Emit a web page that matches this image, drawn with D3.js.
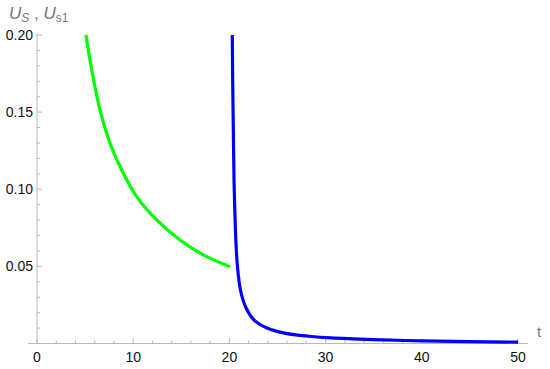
<!DOCTYPE html>
<html>
<head>
<meta charset="utf-8">
<script src="https://cdn.jsdelivr.net/npm/d3@7"></script>
<style>
  body { margin: 0; background: #fff; }
  svg { display: block; font-family: "Liberation Sans", Arial, sans-serif; }
</style>
</head>
<body>
<div id="chart"></div>
<script>
// values
const greenT = [5.09, 5.69, 6.55, 7.59, 8.8, 10.36, 12.44, 14.86, 17.29, 20.06];
const greenU = [0.2, 0.1773, 0.1514, 0.1298, 0.1125, 0.0952, 0.0801, 0.0671, 0.0574, 0.0498];

const blueT = [20.3, 20.34, 20.41, 20.48, 20.57, 20.7, 20.85, 21.15, 21.7, 22.57, 23.96, 25.87, 28.3, 30.6, 35, 40, 45, 50];
const blueU = [0.2, 0.171, 0.138, 0.106, 0.085, 0.063, 0.049, 0.0347, 0.0235, 0.0152, 0.0099, 0.0066, 0.0047, 0.0036, 0.0025, 0.0017, 0.0012, 0.0009];

const xTicks = [0, 10, 20, 30, 40, 50];
const yTicks = [0.05, 0.10, 0.15, 0.20];

const width = 550, height = 369;

const x = d3.scaleLinear().domain([0, 50]).range([37, 518]);
const y = d3.scaleLinear().domain([0, 0.2]).range([343.5, 35]);

const svg = d3.select("#chart").append("svg")
    .attr("width", width)
    .attr("height", height);

const axisColor = "#b8b8b8";

// x axis
const xAxis = svg.append("g");
xAxis.append("line")
    .attr("x1", 28).attr("x2", 528)
    .attr("y1", y(0)).attr("y2", y(0))
    .attr("stroke", axisColor);
xAxis.selectAll("line.minor")
  .data(d3.range(0, 51, 2))
  .join("line")
    .attr("class", "minor")
    .attr("x1", d => x(d)).attr("x2", d => x(d))
    .attr("y1", y(0)).attr("y2", d => y(0) - (d % 10 === 0 ? 5 : 3))
    .attr("stroke", axisColor);
xAxis.selectAll("text")
  .data(xTicks)
  .join("text")
    .attr("x", d => x(d))
    .attr("y", 362)
    .attr("text-anchor", "middle")
    .attr("font-size", 14)
    .attr("fill", "#111")
    .text(d => d);
svg.append("text")
    .attr("x", 537).attr("y", 337)
    .attr("font-size", 15)
    .attr("fill", "#777")
    .text("t");

// y axis
const yAxis = svg.append("g");
yAxis.append("line")
    .attr("x1", x(0)).attr("x2", x(0))
    .attr("y1", 33).attr("y2", y(0))
    .attr("stroke", axisColor);
yAxis.selectAll("line.minor")
  .data(d3.range(1, 21).map(d => d / 100))
  .join("line")
    .attr("class", "minor")
    .attr("x1", x(0)).attr("x2", (d, i) => x(0) + ((i + 1) % 5 === 0 ? 5 : 3))
    .attr("y1", d => y(d)).attr("y2", d => y(d))
    .attr("stroke", axisColor);
yAxis.selectAll("text")
  .data(yTicks)
  .join("text")
    .attr("x", 33)
    .attr("y", d => y(d))
    .attr("dy", "0.35em")
    .attr("text-anchor", "end")
    .attr("font-size", 14)
    .attr("fill", "#111")
    .text(d => d3.format(".2f")(d));

// axis label
const label = svg.append("text")
    .attr("x", 9).attr("y", 19)
    .attr("font-size", 17)
    .attr("fill", "#777");
label.append("tspan").attr("font-style", "italic").text("U");
label.append("tspan").attr("font-style", "italic").attr("font-size", 12).attr("dy", 3).text("S");
label.append("tspan").attr("dy", -3).text(" , ");
label.append("tspan").attr("font-style", "italic").text("U");
label.append("tspan").attr("font-size", 12).attr("dy", 3).text("s1");

// curves
const line = d3.line()
    .x(d => x(d[0]))
    .y(d => y(d[1]))
    .curve(d3.curveCatmullRom.alpha(0.5));

svg.append("path")
    .datum(greenT.map((t, i) => [t, greenU[i]]))
    .attr("d", line)
    .attr("fill", "none")
    .attr("stroke", "#00ff00")
    .attr("stroke-width", 3.2);

svg.append("path")
    .datum(blueT.map((t, i) => [t, blueU[i]]))
    .attr("d", line)
    .attr("fill", "none")
    .attr("stroke", "#0000ff")
    .attr("stroke-width", 3.2);
</script>
</body>
</html>
